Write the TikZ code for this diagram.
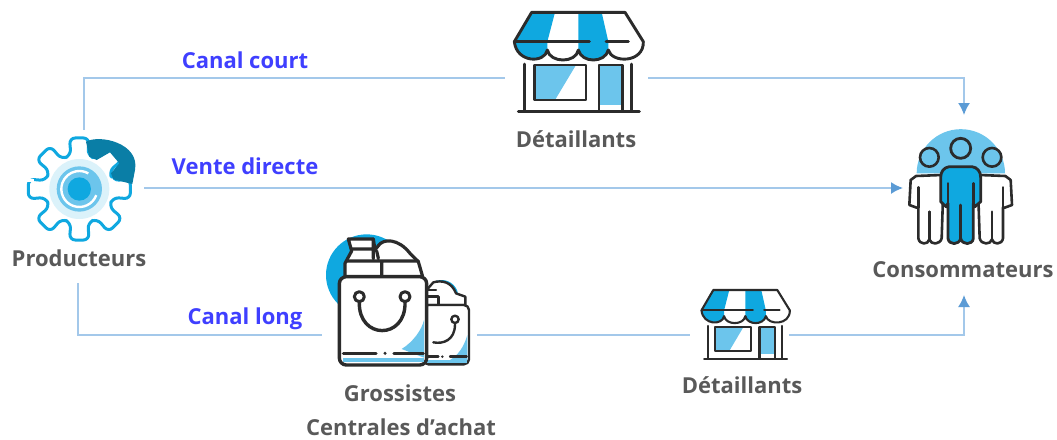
\documentclass[tikz,border=0pt]{standalone}
\usepackage{fontspec}
\setmainfont{Open Sans}
\usetikzlibrary{arrows.meta}
\definecolor{ink}{HTML}{2B2B2B}
\definecolor{skyd}{HTML}{0FA8E0}
\definecolor{skyl}{HTML}{6CC5EC}
\definecolor{teal}{HTML}{0A7EA6}
\definecolor{wire}{HTML}{A3C8EA}
\definecolor{tip}{HTML}{5B9BD5}
\definecolor{lab}{HTML}{595959}
\definecolor{chan}{HTML}{3F3FFF}
\tikzset{
  wirepath/.style={draw=wire,line width=1.6pt,line join=miter},
  wirearrow/.style={wirepath,-{Latex[length=12pt,width=12pt,color=tip]}},
  caption/.style={text=lab,font=\fontsize{22}{26}\selectfont\bfseries,inner sep=0pt,anchor=base},
  channel/.style={text=chan,font=\fontsize{22}{26}\selectfont\bfseries,inner sep=0pt,anchor=base},
  icon/.style={draw=ink,line join=round,line cap=round},
}
\newcommand{\shopglyph}[1]{%
  \fill[skyd] (125,37) -- (195,37) -- (172,125) -- (172,150) .. controls (165,190) and (85,190) .. (75,130) -- cycle;
  \fill[skyd] (265,37) -- (335,37) -- (355,125) -- (355,150) .. controls (345,190) and (275,190) .. (265,150) -- cycle;
  \fill[skyl] (133,195) -- (258,195) -- (195,300) -- (133,300) -- cycle;
  \fill[skyl] (327,195) -- (397,195) -- (397,315) -- (327,315) -- cycle;
  \draw[icon,line width=#1] (125,37) -- (405,37) -- (460,125)
     .. controls (462,190) and (365,190) .. (355,150)
     .. controls (345,190) and (275,190) .. (265,150)
     .. controls (258,190) and (180,190) .. (172,150)
     .. controls (165,190) and (80,190) .. (73,125) -- cycle;
  \draw[icon,line width=#1] (78,125) -- (298,125) (348,125) -- (415,125);
  \draw[icon,line width=#1] (103,192) -- (103,333) (425,192) -- (425,333);
  \draw[icon,line width=#1] (85,335) -- (448,335);
  \draw[icon,line width=#1] (133,195) rectangle (288,300);
  \draw[icon,line width=#1] (327,333) -- (327,195) -- (397,195) -- (397,333);
}
\begin{document}
\begin{tikzpicture}[x=1pt,y=-1pt]
\useasboundingbox (0,0) rectangle (1057,439);
% free ends of the connectors
\coordinate (prodTop) at (84,130);
\coordinate (topCorner) at (84,78);
\coordinate (shopAin) at (505,78);
\coordinate (shopAout) at (648,78);
\coordinate (topRight) at (964,78);
\coordinate (consTop) at (964,115);
\coordinate (prodMid) at (144,188);
\coordinate (consMid) at (903,188);
\coordinate (prodBot) at (78,283);
\coordinate (botCorner) at (78,335);
\coordinate (bagIn) at (322,335);
\coordinate (bagOut) at (477,335);
\coordinate (shopBin) at (690,335);
\coordinate (shopBout) at (789,335);
\coordinate (botRight) at (964,335);
\coordinate (consBot) at (964,295);
\draw[wirepath] (prodTop) -- (topCorner) -- (shopAin);
\draw[wirearrow] (shopAout) -- (topRight) -- (consTop);
\draw[wirearrow] (prodMid) -- (consMid);
\draw[wirepath] (prodBot) -- (botCorner) -- (bagIn);
\draw[wirepath] (bagOut) -- (shopBin);
\draw[wirearrow] (shopBout) -- (botRight) -- (consBot);
% gear
\begin{scope}[shift={(0,120)},scale=1/3]
  \begin{scope}[shift={(238,207)}]
    \draw[draw=skyd,line width=3pt,line join=round,fill=white,rounded corners=6pt]
      (-14:104) \foreach \a in {0,45,...,315} {
        -- ({\a-14}:104) -- ({\a-11}:156) -- ({\a+11}:156) -- ({\a+14}:104) } -- cycle;
    \fill[skyd!15] (0,0) circle (90);
    \fill[skyl] (0,0) circle (68);
    \draw[white,line width=2.4pt] (20:54) arc (20:300:54);
    \fill[skyd] (0,0) circle (35);
    \draw[white,line width=3pt] (-156,-25) -- (-136,-25);
  \end{scope}
  \fill[teal] (258,65) .. controls (300,42) and (420,70) .. (405,150) -- (397,192)
     -- (340,178) -- (333,160) -- (358,130) -- (330,97) -- (290,120) -- (268,110) -- cycle;
\end{scope}
% shops
\begin{scope}[shift={(490,0)},scale=1/3]
  \shopglyph{2.9pt}
\end{scope}
\begin{scope}[shift={(684.8,281.4)},xscale=.2283,yscale=.2317]
  \shopglyph{2.1pt}
\end{scope}
% consumers
\begin{scope}[shift={(890,120)},scale=1/3]
  \fill[skyl] (80,160) arc (180:360:132.5) -- cycle;
  \foreach \m/\o in {1/0,-1/424}{
    \begin{scope}[shift={(\o,0)},xscale=\m]
      \draw[icon,line width=2.6pt,fill=white] (155,165) -- (78,168) -- (62,180) -- (58,255)
        -- (80,263) -- (85,262) -- (85,355) .. controls (88,375) and (115,375) .. (118,358)
        .. controls (122,375) and (150,375) .. (155,355) -- (160,200) -- cycle;
      \draw[icon,line width=2.6pt] (85,262) -- (85,202) (118,358) -- (118,275);
      \draw[icon,line width=2.6pt,fill=skyl] (118,112) circle (28);
    \end{scope}
  }
  \draw[icon,line width=2.8pt,fill=skyd] (178,140) -- (246,140) .. controls (262,142) and (272,155) .. (272,172)
    -- (272,245) -- (255,260) -- (250,250) -- (250,355) .. controls (248,376) and (216,376) .. (212,355)
    .. controls (208,376) and (176,376) .. (174,355) -- (174,250) -- (168,260) -- (152,245) -- (152,172)
    .. controls (152,155) and (162,142) .. (178,140) -- cycle;
  \draw[icon,line width=2.6pt] (174,250) -- (174,190) (250,250) -- (250,190) (212,355) -- (212,255);
  \draw[icon,line width=2.8pt,fill=skyl] (212,85) circle (30);
\end{scope}
% bags
\begin{scope}[shift={(310,225)},scale=1/3]
  % small bag
  \fill[skyd] (395,215) circle (50);
  \draw[icon,line width=2.4pt,fill=white] (350,195) -- (370,172) .. controls (395,165) and (425,170) .. (438,205) -- (466,215) -- (466,240) -- (350,240) -- cycle;
  \draw[icon,line width=2.4pt] (355,195) -- (378,195) (355,215) -- (385,215) (385,215) -- (385,240);
  \draw[icon,line width=2.4pt,fill=white,rounded corners=5pt] (340,240) -- (477,240) -- (477,418) -- (340,418) -- cycle;
  \fill[skyl] (472,330) -- (472,405) -- (420,405) .. controls (445,390) and (462,365) .. cycle;
  \fill[skyl] (350,405) rectangle (472,413);
  \draw[icon,line width=2.4pt] (435,298) .. controls (435,345) and (400,358) .. (370,352);
  \draw[icon,line width=2.4pt,fill=white] (435,283) circle (11);
  \draw[icon,line width=2.4pt] (350,395) -- (385,395) (420,395) -- (470,395);
  \fill[ink] (397,395) circle (4);
  % big bag
  \fill[skyd] (170,150) circle (122);
  \draw[icon,line width=3.2pt,fill=white] (115,42) -- (190,42) -- (195,75) -- (205,62)
    .. controls (220,40) and (265,40) .. (300,85) -- (325,110) -- (338,155) -- (105,155) -- (105,115) -- (125,78) -- cycle;
  \draw[icon,line width=3.2pt] (125,72) -- (190,72) (110,108) -- (325,108) (215,108) -- (215,155)
    (190,42) -- (190,100) (200,78) -- (205,100);
  \draw[icon,line width=3.4pt,fill=white,rounded corners=7pt] (88,155) -- (350,155) -- (350,420) -- (88,420) -- cycle;
  \fill[skyl] (342,285) -- (342,398) -- (275,372) .. controls (310,350) and (335,315) .. cycle;
  \fill[skyl] (100,398) rectangle (342,412);
  \draw[icon,line width=3.4pt] (148,232) .. controls (145,345) and (288,345) .. (285,232);
  \draw[icon,line width=3pt,fill=white] (148,215) circle (15);
  \draw[icon,line width=3pt,fill=white] (285,215) circle (15);
  \draw[icon,line width=3.2pt] (100,385) -- (198,385) (252,385) -- (340,385);
  \fill[ink] (225,385) circle (5);
\end{scope}
% texts
\node[channel] (canalCourt) at (245,68) {Canal court};
\node[channel] (venteDirecte) at (245,174) {Vente directe};
\node[channel] (canalLong) at (245,324) {Canal long};
\node[caption] (detA) at (576,147) {Détaillants};
\node[caption] (prod) at (79,266) {Producteurs};
\node[caption] (cons) at (963,277) {Consommateurs};
\node[caption] (gros) at (400,401) {Grossistes};
\node[caption] (cent) at (401,435) {Centrales d’achat};
\node[caption] (detB) at (742,393) {Détaillants};
\end{tikzpicture}
\end{document}
